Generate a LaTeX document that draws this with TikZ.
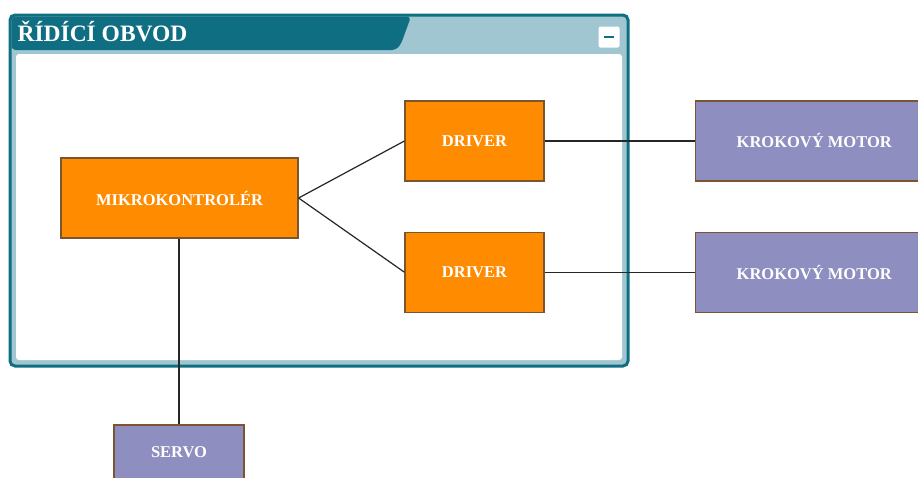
\documentclass[tikz,border=0pt]{standalone}
\usepackage{fontspec}
\setmainfont{Liberation Serif}
\usepackage{tikz}
\definecolor{TealDark}{HTML}{0F6E82}
\definecolor{TealLight}{HTML}{A0C7D1}
\definecolor{BoxOrange}{HTML}{FF8C00}
\definecolor{BoxPurple}{HTML}{8E8EC0}
\definecolor{BoxEdge}{HTML}{7A5530}
\usetikzlibrary{calc}
\usetikzlibrary{positioning}

\begin{document}
\begin{tikzpicture}[x=1pt,y=1pt,
    font=\bfseries\fontsize{16.5}{16.5}\selectfont,
    part/.style={shape=rectangle,
      draw=BoxEdge,
      line width=1.2pt,
      text=white,
      minimum height=80pt,
      inner sep=0pt},
    wire/.style={draw=black!85, line width=1.2pt}]
    \path [use as bounding box] (0,0) rectangle (918,-477);
    \clip (0,0) rectangle (918,-477);

    % frame of the circuit
    \draw[TealDark, line width=3pt, rounded corners=5pt, fill=TealLight]
      (10,-15) rectangle (628,-366);
    \fill[TealDark, rounded corners=4pt]
      (11.5,-16.5) -- (411,-16.5) -- (401,-44) -- (396,-50) -- (11.5,-50) -- cycle;
    \fill[white, rounded corners=3pt] (16,-54) rectangle (622,-360);

    \node[name=title,
      anchor=base west,
      text=white,
      font=\bfseries\fontsize{23.5}{23.5}\selectfont] at (14,-41) {ŘÍDÍCÍ OBVOD};

    \node[name=collapse,
      shape=rectangle,
      rounded corners=2pt,
      fill=white,
      minimum size=21pt] at (609,-37) {};
    \draw[TealDark, line width=2.5pt] ($(collapse.center)+(-5,0)$) -- ($(collapse.center)+(5,0)$);

    % parts
    \node[name=mcu,
      part,
      fill=BoxOrange,
      minimum width=237pt] at (179.5,-198) {MIKROKONTROLÉR};

    \node[name=drvA,
      part,
      fill=BoxOrange,
      minimum width=139pt] at (474.5,-141) {DRIVER};

    \node[name=drvB,
      part,
      fill=BoxOrange,
      minimum width=139pt,
      below=50pt of drvA] {DRIVER};

    \node[name=motA,
      part,
      fill=BoxPurple,
      minimum width=238pt,
      right=150pt of drvA] {KROKOVÝ MOTOR};

    \node[name=motB,
      part,
      fill=BoxPurple,
      minimum width=238pt,
      right=150pt of drvB] {KROKOVÝ MOTOR};

    \node[name=servo,
      part,
      fill=BoxPurple,
      minimum width=130pt,
      minimum height=54pt] at (179,-452) {SERVO};

    \path[wire] (mcu.east) -- (drvA.west);
    \path[wire] (mcu.east) -- (drvB.west);
    \path[wire] (drvA.east) -- (motA.west);
    \path[wire] (drvB.east) -- (motB.west);
    \path[wire] (mcu.south -| servo.north) -- (servo.north);
\end{tikzpicture}
\end{document}
